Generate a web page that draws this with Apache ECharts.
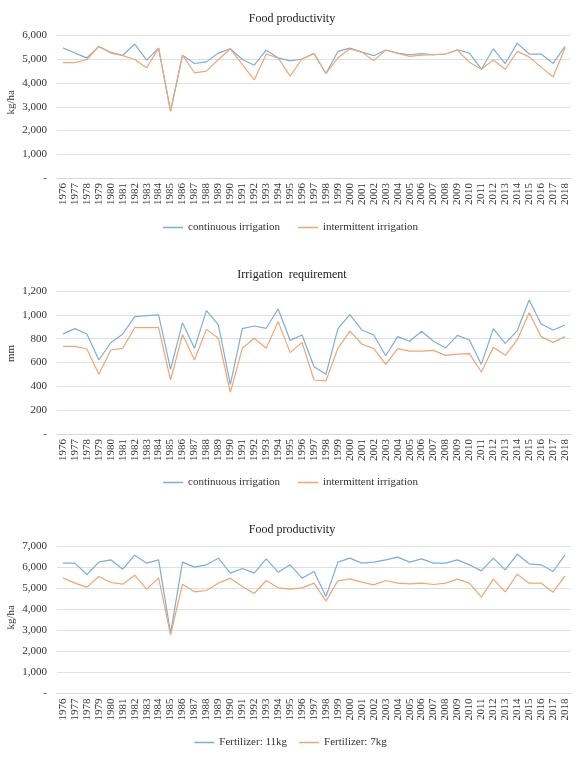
<!DOCTYPE html>
<html><head><meta charset="utf-8">
<script src="https://cdn.jsdelivr.net/npm/echarts@6/dist/echarts.min.js"></script>
<style>html,body{margin:0;padding:0;background:#fff}#c{width:581px;height:761px}</style>
</head><body><div id="c"></div>
<script>
const years = [];
for (let y = 1976; y <= 2018; y++) years.push(String(y));

const foodContinuous = [5480,5260,5060,5540,5290,5170,5640,4960,5470,2830,5170,4820,4890,5260,5440,4990,4750,5380,5060,4930,5010,5240,
  4400,5330,5470,5300,5150,5390,5260,5190,5240,5190,5220,5400,5260,4580,5440,4820,5680,5220,5220,4830,5540];
const foodIntermittent = [4860,4860,4990,5540,5260,5150,4990,4640,5470,2800,5170,4430,4500,4990,5440,4780,4130,5220,5060,4290,5010,5240,
  4400,5060,5440,5300,4940,5390,5250,5120,5170,5190,5220,5380,4870,4580,4970,4580,5330,5100,4670,4250,5470];

const irrContinuous = [840,884,839,621,766,839,985,993,999,543,934,719,1035,915,417,884,906,887,1049,786,831,565,
  501,884,1001,873,831,657,817,778,862,778,722,828,789,584,884,761,867,1124,923,873,915];
const irrIntermittent = [736,736,713,501,705,719,892,892,892,453,834,621,878,803,350,719,803,719,943,683,769,453,
  445,719,864,755,716,585,716,696,696,702,660,671,674,520,727,660,789,1018,817,769,817];

const fert11 = [6206,6206,5667,6254,6365,5921,6587,6206,6365,2873,6254,6016,6127,6444,5730,5952,5730,6413,5778,6127,5492,5810,
  4619,6254,6444,6206,6254,6365,6492,6254,6413,6206,6206,6365,6127,5841,6444,5889,6635,6175,6127,5810,6603];
const fert7 = [5508,5254,5063,5571,5286,5206,5635,4968,5508,2794,5206,4841,4905,5254,5492,5095,4762,5381,5032,4968,5032,5254,
  4413,5365,5460,5302,5175,5381,5254,5222,5254,5190,5254,5444,5254,4587,5444,4841,5683,5254,5254,4825,5603];

const BLUE = '#7aafdc', ORANGE = '#efa66f';
const FONT = '"Liberation Serif", "Times New Roman", serif';

const grids = [
  {left: 57, right: 10, top: 35.5, height: 142.5},
  {left: 57, right: 10, top: 291, height: 143},
  {left: 57, right: 10, top: 546.5, height: 147}
];
const yCfg = [
  {max: 6000, interval: 1000, name: 'kg/ha', nameY: 105},
  {max: 1200, interval: 200, name: 'mm', nameY: 360},
  {max: 7000, interval: 1000, name: 'kg/ha', nameY: 620}
];
const fmt = v => v === 0 ? '-' : v.toLocaleString('en-US');

const option = {
  backgroundColor: '#fff',
  animation: false,
  title: [
    {text: 'Food productivity', left: 287, top: 8, textAlign: 'center'},
    {text: 'Irrigation  requirement', left: 287, top: 264, textAlign: 'center'},
    {text: 'Food productivity', left: 287, top: 519, textAlign: 'center'}
  ].map(t => Object.assign(t, {textStyle: {fontFamily: FONT, fontSize: 12, fontWeight: 'normal', color: '#222'}})),
  legend: [
    {data: ['continuous irrigation', 'intermittent irrigation'], top: 217, itemGap: 18},
    {data: ['continuous irrigation', 'intermittent irrigation'], top: 472, itemGap: 18},
    {data: ['Fertilizer: 11kg', 'Fertilizer: 7kg'], top: 732, itemGap: 12}
  ].map(l => Object.assign(l, {left: 'center', icon: 'rect', itemWidth: 20, itemHeight: 1.5,
      textStyle: {fontFamily: FONT, fontSize: 11, color: '#333'}})),
  graphic: yCfg.map(c => ({type: 'text', left: 6, top: c.nameY - 15, rotation: Math.PI / 2,
      style: {text: c.name, font: '11px ' + FONT, fill: '#333'}})),
  grid: grids,
  xAxis: grids.map((g, i) => ({
    type: 'category', gridIndex: i, data: years, boundaryGap: true,
    axisTick: {show: false},
    axisLine: {lineStyle: {color: '#d9d9d9'}},
    axisLabel: {rotate: 90, interval: 0, fontFamily: FONT, fontSize: 11, color: '#333', margin: 5}
  })),
  yAxis: yCfg.map((c, i) => ({
    type: 'value', gridIndex: i, min: 0, max: c.max, interval: c.interval,
    axisLine: {show: false}, axisTick: {show: false},
    splitLine: {lineStyle: {color: '#e0e0e0'}},
    axisLabel: {formatter: fmt, fontFamily: FONT, fontSize: 11, color: '#333', margin: 10}
  })),
  series: [
    {name: 'continuous irrigation', data: foodContinuous, xAxisIndex: 0, yAxisIndex: 0, color: BLUE},
    {name: 'intermittent irrigation', data: foodIntermittent, xAxisIndex: 0, yAxisIndex: 0, color: ORANGE},
    {name: 'continuous irrigation', data: irrContinuous, xAxisIndex: 1, yAxisIndex: 1, color: BLUE},
    {name: 'intermittent irrigation', data: irrIntermittent, xAxisIndex: 1, yAxisIndex: 1, color: ORANGE},
    {name: 'Fertilizer: 11kg', data: fert11, xAxisIndex: 2, yAxisIndex: 2, color: BLUE},
    {name: 'Fertilizer: 7kg', data: fert7, xAxisIndex: 2, yAxisIndex: 2, color: ORANGE}
  ].map(s => Object.assign(s, {type: 'line', showSymbol: false, symbol: 'none', lineStyle: {width: 1.2}}))
};
echarts.init(document.getElementById('c'), null, {renderer: 'canvas'}).setOption(option);
</script></body></html>
